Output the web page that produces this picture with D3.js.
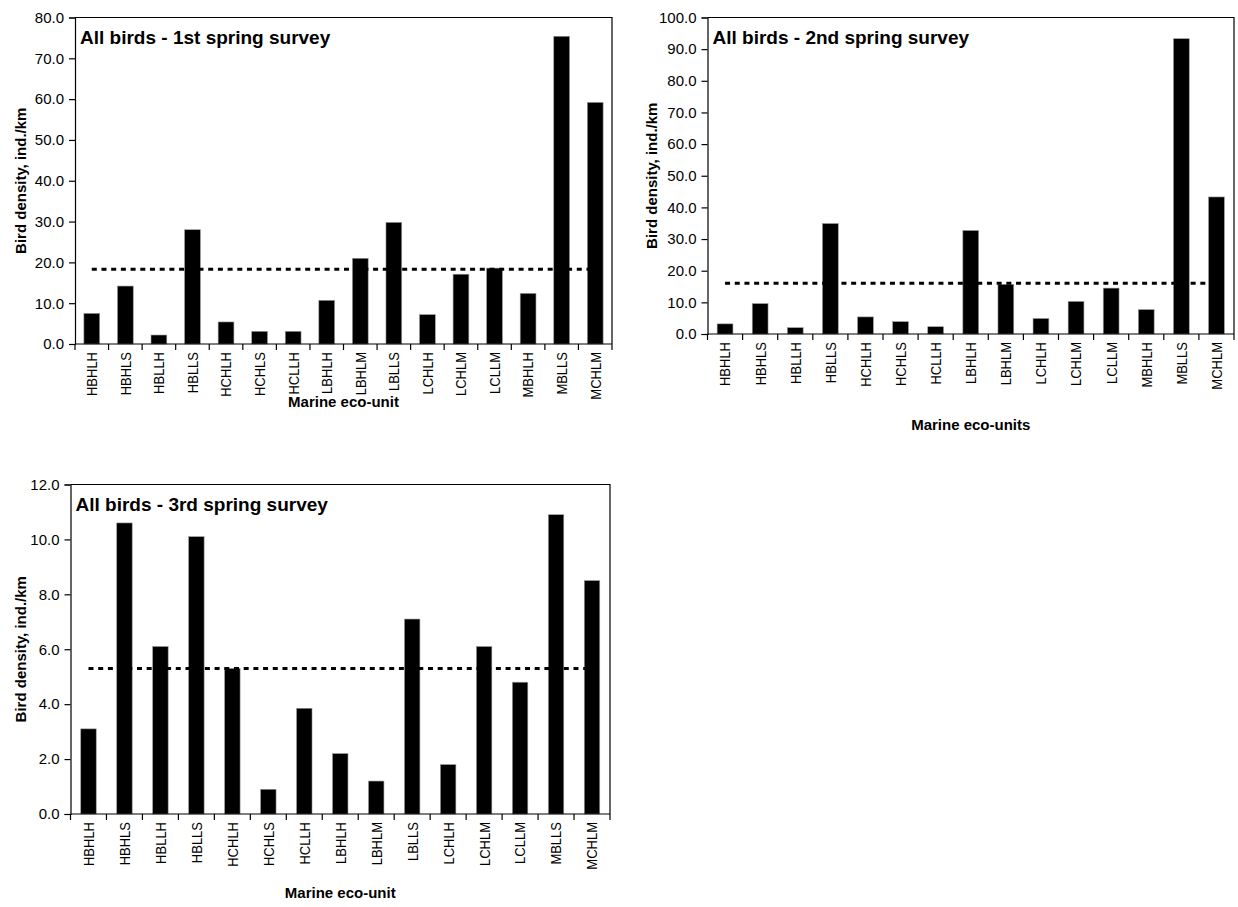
<!DOCTYPE html>
<html>
<head>
<meta charset="utf-8">
<script src="https://cdn.jsdelivr.net/npm/d3@7"></script>
<style>
  html, body { margin: 0; padding: 0; background: #fff; }
  svg { display: block; font-family: "Liberation Sans", Arial, sans-serif; }
</style>
</head>
<body>
<svg id="chart" width="1238" height="907"></svg>
<script>
// Marine eco-units surveyed in each spring survey
const units1 = ["HBHLH","HBHLS","HBLLH","HBLLS","HCHLH","HCHLS","HCLLH","LBHLH","LBHLM","LBLLS","LCHLH","LCHLM","LCLLM","MBHLH","MBLLS","MCHLM"];
const units2 = ["HBHLH","HBHLS","HBLLH","HBLLS","HCHLH","HCHLS","HCLLH","LBHLH","LBHLM","LCHLH","LCHLM","LCLLM","MBHLH","MBLLS","MCHLM"];
const units3 = ["HBHLH","HBHLS","HBLLH","HBLLS","HCHLH","HCHLS","HCLLH","LBHLH","LBHLM","LBLLS","LCHLH","LCHLM","LCLLM","MBLLS","MCHLM"];

// Bird density (ind./km) per eco-unit
const density1 = [7.5, 14.2, 2.2, 28.0, 5.4, 3.1, 3.1, 10.7, 21.0, 29.8, 7.2, 17.1, 18.6, 12.4, 75.4, 59.2];
const density2 = [3.2, 9.6, 2.0, 34.9, 5.4, 3.9, 2.3, 32.7, 15.7, 4.9, 10.3, 14.5, 7.7, 93.3, 43.3];
const density3 = [3.1, 10.6, 6.1, 10.1, 5.3, 0.9, 3.85, 2.2, 1.2, 7.1, 1.8, 6.1, 4.8, 10.9, 8.5];

// Mean density across all eco-units (dotted line)
const mean1 = 18.3;
const mean2 = 16.0;
const mean3 = 5.3;

// Value-axis ticks
const yTicks1 = [0, 10, 20, 30, 40, 50, 60, 70, 80];
const yTicks2 = [0, 10, 20, 30, 40, 50, 60, 70, 80, 90, 100];
const yTicks3 = [0, 2, 4, 6, 8, 10, 12];

const titles = ["All birds - 1st spring survey", "All birds - 2nd spring survey", "All birds - 3rd spring survey"];
const xTitles = ["Marine eco-unit", "Marine eco-units", "Marine eco-unit"];
const yTitle = "Bird density, ind./km";

const panels = [
  { units: units1, values: density1, mean: mean1, ticks: yTicks1, title: titles[0], xTitle: xTitles[0],
    box: { x0: 75, x1: 612, y0: 17.5, y1: 344 }, pad: 0.53, xTitleY: 407, yTitleX: 26 },
  { units: units2, values: density2, mean: mean2, ticks: yTicks2, title: titles[1], xTitle: xTitles[1],
    box: { x0: 707.5, x1: 1234, y0: 17.5, y1: 334 }, pad: 0.55, xTitleY: 430, yTitleX: 657 },
  { units: units3, values: density3, mean: mean3, ticks: yTicks3, title: titles[2], xTitle: xTitles[2],
    box: { x0: 70.5, x1: 610, y0: 484.5, y1: 814 }, pad: 0.57, xTitleY: 898, yTitleX: 26 }
];

const svg = d3.select("#chart");

panels.forEach(p => {
  const b = p.box;
  const x = d3.scaleBand().domain(p.units).range([b.x0, b.x1]).paddingInner(p.pad).paddingOuter(p.pad / 2);
  const xEdge = d3.scaleLinear().domain([0, p.units.length]).range([b.x0, b.x1]);
  const yMax = p.ticks[p.ticks.length - 1];
  const y = d3.scaleLinear().domain([0, yMax]).range([b.y1, b.y0]);

  const g = svg.append("g");

  // plot-area frame (top and right)
  g.append("path")
    .attr("d", `M${b.x0},${b.y0}H${b.x1}V${b.y1}`)
    .attr("fill", "none").attr("stroke", "#000").attr("stroke-width", 1.2);

  // bars
  g.append("g").selectAll("rect").data(p.units).join("rect")
    .attr("x", d => x(d))
    .attr("width", x.bandwidth())
    .attr("y", (d, i) => y(p.values[i]))
    .attr("height", (d, i) => y(0) - y(p.values[i]))
    .attr("fill", "#000")
    .attr("stroke", "#9a9a9a").attr("stroke-width", 0.6);

  // mean line, from the first to the last category centre
  const first = p.units[0], last = p.units[p.units.length - 1];
  g.append("line")
    .attr("x1", x(first) + x.bandwidth() / 2)
    .attr("x2", x(last) + x.bandwidth() / 2)
    .attr("y1", y(p.mean)).attr("y2", y(p.mean))
    .attr("stroke", "#000").attr("stroke-width", 3)
    .attr("stroke-dasharray", "5,4.7");

  // value axis
  const yAxis = d3.axisLeft(y).tickValues(p.ticks).tickFormat(d3.format(".1f")).tickSizeOuter(0).tickSize(6).tickPadding(5);
  const ya = g.append("g").attr("transform", `translate(${b.x0},0)`).call(yAxis);
  ya.select(".domain").attr("stroke-width", 1.2);
  ya.selectAll(".tick line").attr("stroke-width", 1.2);
  ya.selectAll("text").attr("font-size", 15).attr("fill", "#000")
    .attr("font-family", "Liberation Sans, Arial, sans-serif");

  // category axis: ticks on category boundaries
  const xa = g.append("g");
  xa.append("line").attr("x1", b.x0).attr("x2", b.x1).attr("y1", b.y1).attr("y2", b.y1)
    .attr("stroke", "#000").attr("stroke-width", 1.2);
  xa.selectAll("line.tk").data(d3.range(p.units.length + 1)).join("line")
    .attr("class", "tk")
    .attr("x1", i => xEdge(i)).attr("x2", i => xEdge(i))
    .attr("y1", b.y1).attr("y2", b.y1 + 6)
    .attr("stroke", "#000").attr("stroke-width", 1.2);
  xa.selectAll("text").data(p.units).join("text")
    .attr("transform", d => `translate(${x(d) + x.bandwidth() / 2},${b.y1 + 8}) scale(1.15,1) rotate(-90)`)
    .attr("text-anchor", "end")
    .attr("dy", "0.36em")
    .attr("font-size", 13)
    .text(d => d);

  // panel title
  g.append("text")
    .attr("x", b.x0 + 5).attr("y", b.y0 + 26)
    .attr("font-size", 19).attr("font-weight", "bold")
    .text(p.title);

  // axis titles
  g.append("text")
    .attr("x", (b.x0 + b.x1) / 2).attr("y", p.xTitleY)
    .attr("text-anchor", "middle")
    .attr("font-size", 15).attr("font-weight", "bold")
    .text(p.xTitle);
  g.append("text")
    .attr("transform", `translate(${p.yTitleX},${(b.y0 + b.y1) / 2}) rotate(-90)`)
    .attr("text-anchor", "middle")
    .attr("font-size", 15).attr("font-weight", "bold")
    .text(yTitle);
});
</script>
</body>
</html>
